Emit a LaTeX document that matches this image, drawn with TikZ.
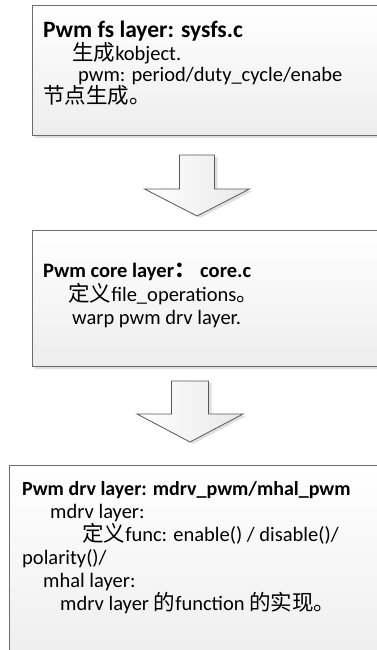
\documentclass[tikz,border=0pt]{standalone}
\usepackage{fontspec}
\setmainfont{Carlito}
\newfontfamily\cjk[Scale=1.05]{Noto Sans CJK SC}
\usetikzlibrary{positioning,shadows}
\newcommand\layername[2][20.5]{{\fontsize{#1}{#1}\selectfont\bfseries #2}}

\begin{document}
\begin{tikzpicture}[x=1pt,y=-1pt,
layer/.style={draw=gray!85!black,line width=0.9pt,top color=white,bottom color=gray!14,anchor=north west,inner sep=0pt,
  drop shadow={shadow xshift=3pt,shadow yshift=-3pt,fill=gray!25,opacity=1}},
txt/.style={align=left,inner sep=0pt,font=\fontsize{20.5}{23}\selectfont},
blockarr/.style={draw=gray!70!black,line width=0.8pt,left color=white,right color=gray!18,
  drop shadow={shadow xshift=3pt,shadow yshift=-2pt,fill=gray!25,opacity=1}}]
\useasboundingbox (0,0) rectangle (376,650);
% three layers, cut by the right edge
\node[layer,minimum width=358pt,minimum height=130pt] (fs) at (32,5) {};
\node[layer,minimum width=358pt,minimum height=136pt] (core) at (32,230) {};
\node[layer,minimum width=381pt,minimum height=205pt] (drv) at (9,465) {};
\node[txt,font=\fontsize{20.5}{21}\selectfont,below right=16pt and 11pt of fs.north west] (fstxt)
  {\layername[23.5]{Pwm fs layer: sysfs.c}\\
   \hspace*{29pt}{\cjk 生成}kobject.\\
   \hspace*{35pt}pwm: period/duty\_cycle/enabe\\
   {\cjk 节点生成。}};
\node[txt,below right=33pt and 11pt of core.north west] (coretxt)
  {\layername{Pwm core layer{\cjk ：} core.c}\\[1pt]
   \hspace*{25pt}{\cjk 定义}file\_operations{\cjk 。}\\
   \hspace*{29pt}warp pwm drv layer.};
\node[txt,below right=16pt and 13pt of drv.north west] (drvtxt)
  {\layername[20]{Pwm drv layer: mdrv\_pwm/mhal\_pwm}\\
   \hspace*{28pt}mdrv layer:\\
   \hspace*{60pt}{\cjk 定义}func: enable() / disable()/\\
   polarity()/\\
   \hspace*{21pt}mhal layer:\\
   \hspace*{38pt}mdrv layer {\cjk 的}function {\cjk 的实现。}};
% block arrows between the layers
\coordinate (tip1) at (197,216);
\coordinate (tip2) at (190,442);
\draw[blockarr] (tip1) -- ++(-52.5,-27) -- ++(35,0) -- ++(0,-34) -- ++(35,0) -- ++(0,34) -- ++(35,0) -- cycle;
\draw[blockarr] (tip2) -- ++(-53,-28) -- ++(34.5,0) -- ++(0,-33) -- ++(37,0) -- ++(0,33) -- ++(34.5,0) -- cycle;
\end{tikzpicture}
\end{document}
